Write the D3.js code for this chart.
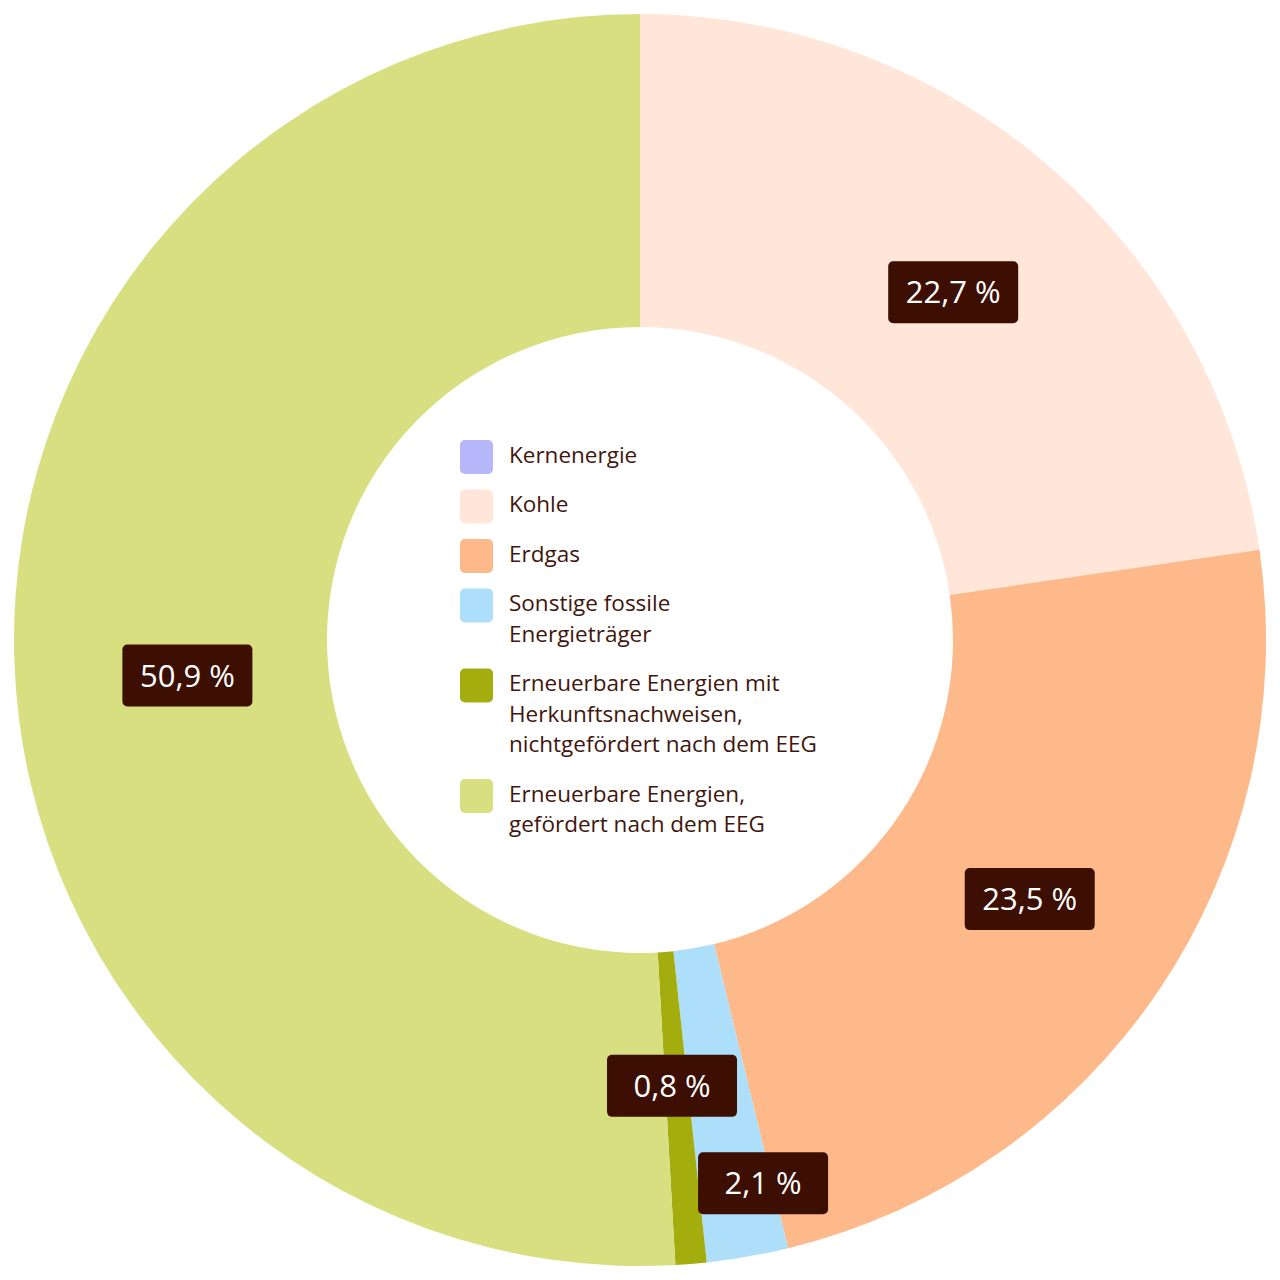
<!DOCTYPE html>
<html>
<head>
<meta charset="utf-8">
<script src="https://cdn.jsdelivr.net/npm/d3@7"></script>
<style>
  html, body { margin: 0; padding: 0; background: #fff; }
  svg { display: block; }
</style>
</head>
<body>
<div id="container"></div>
<script>
// Strommix shares (percent)
const categories = [
  'Kernenergie',
  'Kohle',
  'Erdgas',
  'Sonstige fossile Energieträger',
  'Erneuerbare Energien mit Herkunftsnachweisen, nichtgefördert nach dem EEG',
  'Erneuerbare Energien, gefördert nach dem EEG'
];
const values = [0, 22.7, 23.5, 2.1, 0.8, 50.9];
const valueLabels = ['', '22,7 %', '23,5 %', '2,1 %', '0,8 %', '50,9 %'];
const legendLines = [
  ['Kernenergie'],
  ['Kohle'],
  ['Erdgas'],
  ['Sonstige fossile', 'Energieträger'],
  ['Erneuerbare Energien mit', 'Herkunftsnachweisen,', 'nichtgefördert nach dem EEG'],
  ['Erneuerbare Energien,', 'gefördert nach dem EEG']
];
const colors = ['#b5b7fa', '#ffe6d8', '#fdb98a', '#addefa', '#a4ad0e', '#d7df81'];

const width = 1280, height = 1280;
const cx = 640, cy = 640;
const outerR = 626, innerR = 313;

// label nudges for the thin slices (radius, angle offset in radians)
const labelRadius = [469, 468, 468, 557, 447, 454];
const labelAngleNudge = [0, 0.02, -0.007, -0.05, 0.01, -0.05];

const svg = d3.select('#container').append('svg')
  .attr('width', width)
  .attr('height', height);

const g = svg.append('g').attr('transform', `translate(${cx},${cy})`);

const pie = d3.pie().sort(null).value(d => d)(values);
const arc = d3.arc().innerRadius(innerR).outerRadius(outerR);

g.selectAll('path.slice')
  .data(pie)
  .join('path')
  .attr('class', 'slice')
  .attr('d', arc)
  .attr('fill', (d, i) => colors[i]);

// value labels
const boxW = 130, boxH = 62;
const labels = g.selectAll('g.label')
  .data(pie.filter(d => d.value > 0))
  .join('g')
  .attr('class', 'label')
  .attr('transform', d => {
    const a = (d.startAngle + d.endAngle) / 2 + labelAngleNudge[d.index];
    const r = labelRadius[d.index];
    return `translate(${r * Math.sin(a)},${-r * Math.cos(a)})`;
  });

labels.append('rect')
  .attr('x', -boxW / 2).attr('y', -boxH / 2)
  .attr('width', boxW).attr('height', boxH)
  .attr('rx', 5)
  .attr('fill', '#3c0f02');

labels.append('text')
  .attr('text-anchor', 'middle')
  .attr('dy', '0.36em')
  .attr('fill', '#fff')
  .style('font-family', '"Open Sans", sans-serif')
  .style('font-size', '31px')
  .style('font-weight', 500)
  .text(d => valueLabels[d.index]);

// legend in the hole
const legend = svg.append('g').attr('transform', 'translate(460,455)');
const lineH = 30.5, itemGap = 49.5;
let y = 0;
legendLines.forEach((lines, i) => {
  const item = legend.append('g').attr('transform', `translate(0,${y})`);
  item.append('rect')
    .attr('x', 0).attr('y', -15)
    .attr('width', 33).attr('height', 34)
    .attr('rx', 5)
    .attr('fill', colors[i]);
  lines.forEach((t, j) => {
    item.append('text')
      .attr('x', 49)
      .attr('y', j * lineH)
      .attr('dy', '0.35em')
      .attr('fill', '#3f160d')
      .style('font-family', '"Open Sans", sans-serif')
      .style('font-size', '22.5px')
      .text(t);
  });
  y += (lines.length - 1) * lineH + itemGap;
});
</script>
</body>
</html>
